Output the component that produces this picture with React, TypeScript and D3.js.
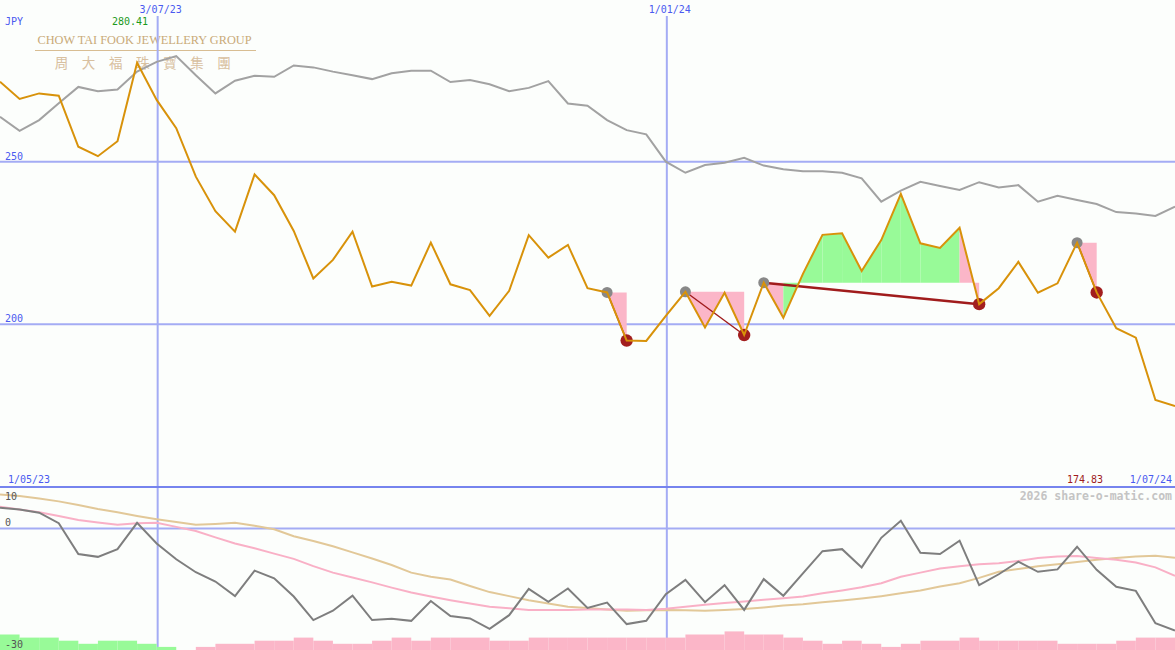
import React from "react";
import * as d3 from "d3";

const W = 1175;
const H = 650;

// weekly closes (JPY)
const closes = [
  274.6, 269.3, 271.0, 270.3, 254.6, 251.7, 256.3, 280.41, 269.0, 260.3,
  245.4, 234.8, 228.5, 246.1, 239.7, 228.7, 214.1, 219.8, 228.5, 211.6,
  213.1, 211.9, 225.1, 212.3, 210.5, 202.6, 210.3, 227.4, 220.5, 224.4,
  211.1, 209.8, 195.0, 194.9, 202.6, 210.0, 199.0, 209.7, 196.7, 212.8,
  202.0, 215.5, 227.5, 228.0, 216.4, 225.9, 240.1, 224.9, 223.5, 229.7,
  206.2, 211.1, 219.2, 209.7, 212.6, 225.1, 209.8, 198.8, 195.9, 176.7,
  174.83,
];

// relative strength line (plotted on price scale)
const relative = [
  263.8, 259.5, 262.8, 268.0, 273.0, 271.7, 272.2, 277.7, 280.7, 282.5,
  276.6, 271.0, 274.9, 276.4, 276.1, 279.6, 279.0, 277.7, 276.6, 275.4,
  277.2, 278.0, 278.0, 274.5, 275.1, 273.8, 271.7, 272.7, 274.8, 267.9,
  267.2, 262.8, 259.7, 258.4, 250.0, 246.6, 249.0, 249.7, 251.2, 248.8,
  247.7, 247.1, 247.1, 246.6, 244.9, 237.7, 241.1, 243.8, 242.5, 241.3,
  243.7, 242.1, 242.8, 237.7, 239.5, 238.2, 237.0, 234.5, 234.1, 233.3,
  236.2,
];

// lower panel oscillator
const oscillator = [
  5.1, 4.7, 3.9, 1.3, -6.3, -7.0, -5.1, 1.4, -3.7, -7.6,
  -10.8, -13.1, -16.7, -10.4, -12.3, -16.8, -22.6, -20.3, -16.6, -22.6,
  -22.3, -22.8, -17.9, -21.6, -22.2, -24.8, -21.4, -14.9, -18.1, -14.8,
  -19.6, -18.3, -23.6, -22.8, -16.2, -12.7, -18.2, -14.0, -20.1, -12.5,
  -16.6, -11.1, -5.6, -5.1, -9.6, -2.3, 1.9, -6.0, -6.3, -3.0,
  -14.0, -11.3, -8.2, -10.7, -10.1, -4.5, -10.2, -14.4, -15.4, -23.4,
  -25.2,
];

const oscFast = [
  5.4, 4.7, 4.0, 3.1, 2.1, 1.5, 0.9, 1.3, 1.4, 0.4,
  -0.6, -2.2, -3.7, -4.9, -6.2, -7.5, -9.3, -10.9, -12.1, -13.3,
  -14.6, -15.8, -16.8, -17.7, -18.5, -19.3, -19.7, -20.1, -20.1, -20.1,
  -20.0, -20.0, -20.0, -20.1, -19.8, -19.3, -18.8, -18.4, -18.0, -17.6,
  -17.2, -16.8, -16.0, -15.3, -14.5, -13.5, -11.9, -10.9, -9.9, -9.3,
  -8.8, -8.6, -8.0, -7.3, -6.9, -6.8, -7.3, -7.7, -8.4, -9.6,
  -11.7,
];

const oscSlow = [
  8.4, 8.0, 7.4, 6.7, 5.8, 4.8, 4.0, 3.1, 2.3, 1.6,
  0.9, 1.1, 1.4, 0.7, -0.2, -1.9, -3.1, -4.4, -5.9, -7.4,
  -9.0, -10.9, -11.9, -12.6, -14.2, -15.7, -16.7, -17.7, -18.5, -19.3,
  -19.6, -20.0, -20.3, -20.2, -20.1, -20.2, -20.3, -20.1, -19.9, -19.5,
  -19.0, -18.7, -18.2, -17.8, -17.3, -16.7, -16.0, -15.3, -14.3, -13.5,
  -12.2, -10.7, -10.0, -9.3, -8.8, -8.3, -7.7, -7.3, -6.9, -6.7,
  -7.2,
];

// weekly histogram: + = up weeks (green), - = down weeks (pink)
const histogram = [
  5, 4, 4, 3, 2, 3, 3, 2, 1, 0,
  -1, -2, -2, -3, -3, -4, -3, -2, -2, -3,
  -4, -3, -4, -4, -4, -3, -3, -4, -4, -4,
  -4, -4, -4, -4, -4, -5, -5, -6, -5, -5,
  -4, -3, -2, -3, -2, -1, -2, -3, -3, -4,
  -3, -3, -3, -3, -2, -2, -2, -3, -4, -4,
];

const peaks = [31, 35, 39, 55];
const troughs = [32, 38, 50, 56];

const priceTicks = [250, 200];
const oscTicks = [10, 0, -30];
const dateMarkers = [
  { index: 8, label: "3/07/23" },
  { index: 34, label: "1/01/24" },
];
const startLabel = "1/05/23";
const endLabel = "1/07/24";
const currency = "JPY";
const maxLabel = "280.41";
const minLabel = "174.83";
const logoEn = "CHOW TAI FOOK JEWELLERY GROUP";
const logoZh = ["周", "大", "福", "珠", "寶", "集", "團"];

const BLUE_LINE = "#a4acf4";
const BLUE_TEXT = "#4a5af0";
const MONO = "'DejaVu Sans Mono', monospace";

export default function App() {
  const x = d3.scaleLinear().domain([0, closes.length - 1]).range([0, W]);
  const yP = d3.scaleLinear().domain([200, 250]).range([324.3, 161.7]);
  const yO = d3.scaleLinear().domain([-30, 10]).range([650, 488]);
  const hBar = d3.scaleLinear().domain([0, 6]).range([0, 18.6]);

  const linePrice = d3
    .line<number>()
    .x((_, i) => x(i))
    .y((d) => yP(d));
  const lineOsc = d3
    .line<number>()
    .x((_, i) => x(i))
    .y((d) => yO(d));

  const fills: { d: string; color: string }[] = [];
  peaks.forEach((p, j) => {
    const t = troughs[j];
    const level = closes[p];
    for (let k = p; k < t; k++) {
      const pts: [number, number][] = [
        [x(k), yP(level)],
        [x(k), yP(closes[k])],
        [x(k + 1), yP(closes[k + 1])],
        [x(k + 1), yP(level)],
      ];
      fills.push({
        d: "M" + pts.map((q) => q.join(",")).join("L") + "Z",
        color: closes[k + 1] > level ? "#98fa98" : "#fbb6c8",
      });
    }
  });

  return (
    <svg
      width={W}
      height={H}
      style={{ position: "absolute", left: 0, top: 0, display: "block" }}
    >
      <rect x={0} y={0} width={W} height={H} fill="#fcfefc" />

      {/* logo */}
      <text
        x={37.5}
        y={43.5}
        fontFamily="'Liberation Serif', 'DejaVu Serif', serif"
        fontSize={13}
        fill="#c9aa78"
        textLength={214}
        lengthAdjust="spacingAndGlyphs"
      >
        {logoEn}
      </text>
      <line x1={35} x2={256} y1={50.5} y2={50.5} stroke="#d8bd92" strokeWidth={1.2} />
      {logoZh.map((c, i) => (
        <text
          key={c}
          x={61.5 + i * 27.1}
          y={67.5}
          textAnchor="middle"
          fontFamily="'Noto Sans CJK TC', sans-serif"
          fontSize={13.5}
          fill="#d8c0a0"
        >
          {c}
        </text>
      ))}

      {/* grid lines */}
      {priceTicks.map((t) => (
        <g key={t}>
          <line x1={0} x2={W} y1={yP(t)} y2={yP(t)} stroke={BLUE_LINE} strokeWidth={2} />
          <text x={5} y={yP(t) - 2} fontFamily={MONO} fontSize={10} fill={BLUE_TEXT}>
            {t}
          </text>
        </g>
      ))}
      <line x1={0} x2={W} y1={yO(0)} y2={yO(0)} stroke={BLUE_LINE} strokeWidth={2} />
      {dateMarkers.map((m) => (
        <g key={m.label}>
          <line
            x1={x(m.index) + 1}
            x2={x(m.index) + 1}
            y1={16}
            y2={H}
            stroke={BLUE_LINE}
            strokeWidth={2}
          />
          <text
            x={x(m.index) + 4}
            y={13}
            textAnchor="middle"
            fontFamily={MONO}
            fontSize={10}
            fill={BLUE_TEXT}
          >
            {m.label}
          </text>
        </g>
      ))}

      {/* relative line */}
      <path d={linePrice(relative) || ""} fill="none" stroke="#a2a2a2" strokeWidth={2} />

      {/* drawdown fills */}
      {fills.map((f, i) => (
        <path key={i} d={f.d} fill={f.color} stroke="none" />
      ))}

      {/* peak-trough connectors */}
      {peaks.map((p, j) => (
        <line
          key={"c" + p}
          x1={x(p)}
          y1={yP(closes[p])}
          x2={x(troughs[j])}
          y2={yP(closes[troughs[j]])}
          stroke="#a01c1c"
          strokeWidth={troughs[j] - p > 5 ? 2.5 : 1.4}
        />
      ))}

      {/* markers */}
      {peaks.map((p) => (
        <circle key={"p" + p} cx={x(p)} cy={yP(closes[p])} r={5.5} fill="#888888" />
      ))}
      {troughs.map((t) => (
        <circle key={"t" + t} cx={x(t)} cy={yP(closes[t])} r={6.2} fill="#a21e1e" />
      ))}

      {/* price line */}
      <path d={linePrice(closes) || ""} fill="none" stroke="#d8920a" strokeWidth={2} />

      {/* labels upper */}
      <text x={5} y={25} fontFamily={MONO} fontSize={10} fill={BLUE_TEXT}>
        {currency}
      </text>
      <text x={112} y={25} fontFamily={MONO} fontSize={10} fill="#1c9a1c">
        {maxLabel}
      </text>
      <text x={8} y={483} fontFamily={MONO} fontSize={10} fill={BLUE_TEXT}>
        {startLabel}
      </text>
      <text x={1067} y={483} fontFamily={MONO} fontSize={10} fill="#a01c1c">
        {minLabel}
      </text>
      <text x={1172} y={483} textAnchor="end" fontFamily={MONO} fontSize={10} fill={BLUE_TEXT}>
        {endLabel}
      </text>

      {/* panel separator */}
      <line x1={0} x2={W} y1={487} y2={487} stroke="#7684ee" strokeWidth={2} />

      {/* histogram */}
      {histogram.map((v, k) =>
        v === 0 ? null : (
          <rect
            key={"h" + k}
            x={x(k)}
            y={H - hBar(Math.abs(v))}
            width={x(k + 1) - x(k)}
            height={hBar(Math.abs(v))}
            fill={v > 0 ? "#98fa98" : "#fbb6c8"}
          />
        )
      )}

      {/* oscillator lines */}
      <path d={lineOsc(oscSlow) || ""} fill="none" stroke="#e2c898" strokeWidth={2} />
      <path d={lineOsc(oscFast) || ""} fill="none" stroke="#f9b0c6" strokeWidth={2} />
      <path d={lineOsc(oscillator) || ""} fill="none" stroke="#7e7e7e" strokeWidth={2} />

      {/* oscillator labels */}
      <text x={5} y={500} fontFamily={MONO} fontSize={10} fill="#555555">
        {oscTicks[0]}
      </text>
      <text x={5} y={526} fontFamily={MONO} fontSize={10} fill="#555555">
        {oscTicks[1]}
      </text>
      <text x={5} y={648} fontFamily={MONO} fontSize={10} fill="#555555">
        {oscTicks[2]}
      </text>

      <text
        x={1172}
        y={500}
        textAnchor="end"
        fontFamily={MONO}
        fontSize={11.5}
        fontWeight="bold"
        fill="#c4c4c4"
      >
        2026 share-o-matic.com
      </text>
    </svg>
  );
}
